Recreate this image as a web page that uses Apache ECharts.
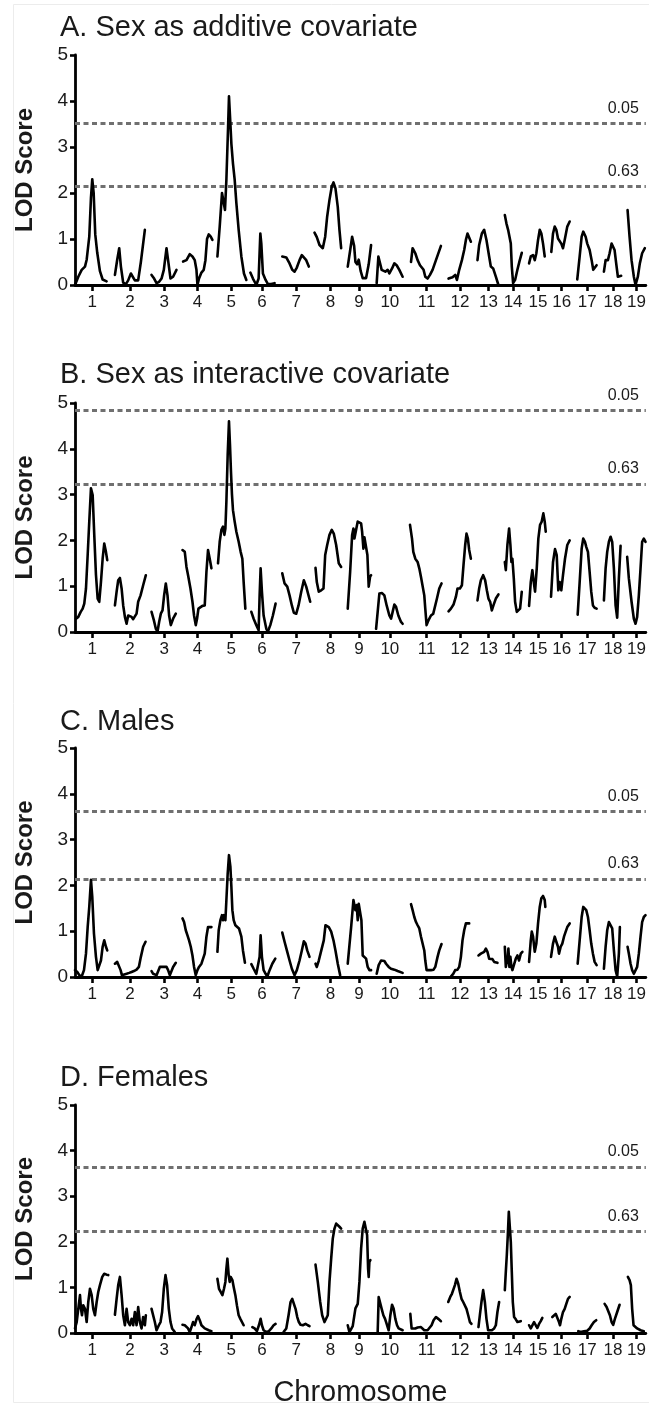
<!DOCTYPE html>
<html><head><meta charset="utf-8">
<script src="https://cdn.jsdelivr.net/npm/echarts@6/dist/echarts.min.js"></script>
<style>html,body{margin:0;padding:0;background:#fff}#c{width:649px;height:1408px}</style>
</head><body><div id="c"></div>
<script>
// ---- data ----
const chrLabels = ['1','2','3','4','5','6','7','8','9','10','11','12','13','14','15','16','17','18','19'];
const chrMid = [17.3,55,89.5,122.8,156.5,187.3,221.7,256,284.5,315.5,352.3,385.7,414.3,439,464,487.7,513.3,539,562.7];
const genomeEnd = 572;
const panelTitles = ['A. Sex as additive covariate','B. Sex as interactive covariate','C. Males','D. Females'];
const thresholdLabels = ['0.05','0.63'];
const thrA = [3.51, 2.15];
const thrB = [4.84, 3.23];
const thrC = [3.61, 2.14];
const thrD = [3.64, 2.23];

const lodA = [
[[0,0],[3.3,0.18],[6.7,0.33],[10,0.4],[11.7,0.55],[14.3,1.05],[16,1.9],[17.3,2.3],[18.7,2.0],[20.3,1.1],[22.3,0.7],[25,0.3],[27.7,0.12],[31.7,0.08]],
[[40,0.22],[42.3,0.55],[44.3,0.8],[46,0.4],[48.3,0.05],[51,0.02],[53.3,0.1],[56,0.25],[58,0.25],[60,0.1],[63.3,0.1],[66,0.5],[70,1.2]],
[[76.7,0.22],[79.3,0.14],[81.7,0.04],[84.3,0.07],[86.7,0.14],[89,0.33],[91.7,0.8],[93.7,0.47],[95.7,0.14],[98.3,0.18],[101.7,0.33]],
[[108.3,0.51],[111.7,0.54],[115,0.67],[117.7,0.62],[120,0.54],[121.7,0.33],[122.7,0],[124.3,0.14],[126.7,0.27],[129,0.33],[130.7,0.54],[132.3,1.0],[134,1.1],[136,1.05],[137.7,0.98]],
[[142.7,0.62],[145,1.27],[147.3,2.0],[149,2.03],[150.3,1.63],[151.7,2.29],[153.3,3.37],[154.3,4.1],[155.7,3.51],[156.7,3.07],[158.3,2.64],[160,2.29],[161.7,1.78],[164,1.2],[166.7,0.62],[169.3,0.25],[171.7,0.11]],
[[175.7,0.27],[178.3,0.14],[181.7,0],[184,0.14],[185.7,1.12],[186.7,0.9],[188.3,0.25],[191,0.11],[193.3,0.02],[196.7,0.02],[200,0.04]],
[[207.7,0.62],[211.7,0.6],[215,0.47],[217.7,0.33],[220,0.29],[222.3,0.38],[225,0.54],[227.3,0.65],[229.3,0.69],[231.7,0.54],[234.3,0.4]],
[[240,1.14],[242.3,1.04],[245,0.87],[248.3,0.8],[250.7,1.05],[252.7,1.49],[255,1.85],[257.3,2.14],[259,2.23],[261,2.1],[263.3,1.7],[265,1.2],[266.7,0.8]],
[[273.3,0.4],[275.7,0.75],[277.7,1.05],[279.7,0.85],[281,0.5],[282.7,0.45],[284.3,0.55],[286.3,0.3],[288.3,0.15],[291.7,0.15],[294.3,0.45],[296.7,0.87]],
[[302.3,0.04],[304,0.62],[305.7,0.47],[307.3,0.33],[309.3,0.36],[311,0.29],[313.3,0.33],[315,0.25],[317.7,0.36],[320,0.47],[322.3,0.43],[325,0.33],[328.3,0.18]],
[[336.7,0.5],[338.3,0.8],[341,0.69],[343.3,0.54],[345.7,0.43],[347.7,0.47],[349.3,0.33],[351,0.18],[353.3,0.14],[355.7,0.22],[358.3,0.33],[361.7,0.54],[366.7,0.85]],
[[374.3,0.14],[378.3,0.17],[381,0.22],[382.7,0.11],[385,0.33],[387.7,0.54],[390,0.76],[391.7,0.98],[393.3,1.12],[395,1.09],[396.7,0.94]],
[[403.3,0.54],[405,0.87],[407.7,1.12],[410,1.2],[412.3,0.98],[415,0.62],[416.7,0.4],[419,0.36],[421.7,0.18],[424.3,0]],
[[430.7,1.52],[432.3,1.34],[434,1.2],[435.7,1.16],[436.7,0.9],[437.7,0.4],[439,0.04],[441,0.11],[443.3,0.33],[445.7,0.54],[447.7,0.7]],
[[455,0.47],[456.7,0.62],[459,0.65],[460.7,0.54],[462.3,0.69],[464,0.98],[465.7,1.2],[467.3,1.12],[469,0.9],[470.7,0.62]],
[[477.3,0.72],[479,1.12],[480.7,1.27],[482.3,1.2],[484,1.01],[485.7,1.05],[487.3,0.9],[489,0.8],[490.7,0.98],[493.3,1.27],[495.7,1.38]],
[[503.3,0.12],[505.7,0.62],[507.7,1.05],[509.3,1.16],[511.7,1.05],[513.3,0.9],[515.7,0.76],[517.7,0.54],[519.3,0.33],[521,0.36],[522.7,0.43]],
[[530,0.29],[531.7,0.54],[534,0.54],[535.7,0.69],[537.7,0.9],[539,0.94],[540.7,0.76],[542.3,0.47],[544,0.18],[545.7,0.18],[547.3,0.2]],
[[553.7,1.63],[555.7,1.05],[557.7,0.54],[560,0.18],[561.7,0],[564,0.18],[566,0.47],[568.3,0.69],[571,0.8]]
];

const lodB = [
[[1,0.29],[3.3,0.33],[5.7,0.44],[7.7,0.51],[9.3,0.62],[11,0.95],[12.7,1.68],[14.3,2.41],[16,3.14],[17.7,2.99],[19.3,2.12],[21,1.25],[22.7,0.73],[24.3,0.66],[26,1.09],[27.7,1.6],[29.3,1.93],[31,1.75],[32.3,1.57]],
[[40,0.58],[41.7,0.88],[43.3,1.13],[45,1.18],[46.7,0.95],[48.3,0.58],[50,0.33],[51.7,0.18],[53.3,0.36],[55,0.36],[56.7,0.33],[58.3,0.28],[60,0.26],[61.7,0.4],[63.3,0.66],[65.7,0.8],[68.3,1.02],[71,1.24]],
[[76.7,0.44],[79,0.26],[81,0.07],[82.7,0.01],[84.3,0.22],[86,0.4],[87.7,0.47],[89.3,0.8],[91,1.06],[92.7,0.8],[94.3,0.36],[96,0.15],[98.3,0.29],[101,0.4]],
[[107.7,1.79],[110,1.75],[111.7,1.42],[113.3,1.24],[115.7,0.95],[117.7,0.66],[119.3,0.36],[121,0.15],[122.3,0.29],[123.7,0.51],[125.7,0.55],[127.7,0.57],[130,0.58],[131.7,1.31],[133.3,1.79],[135,1.6],[136.7,1.39]],
[[143.3,1.5],[145,1.97],[146.7,2.23],[148.3,2.3],[149.7,2.12],[150.7,2.26],[151.7,2.85],[153,3.87],[154.3,4.6],[155.3,4.09],[156.3,3.5],[157.3,3.0],[158.3,2.66],[160,2.41],[161.7,2.19],[164,1.97],[166,1.75],[167.7,1.6],[169,1.09],[170.7,0.51]],
[[176.7,0.44],[179,0.29],[181.7,0.15],[184,0.04],[185,0.8],[186,1.39],[187.3,0.88],[189,0.36],[191.7,0.07],[193.3,0.01],[195.7,0.15],[198.3,0.36],[201,0.62]],
[[207.7,1.28],[210,1.06],[212.7,0.99],[215,0.8],[217.3,0.58],[219.3,0.42],[221.7,0.4],[224,0.58],[226.7,0.88],[229.3,1.13],[231.7,0.99],[234,0.8],[235.7,0.66]],
[[241,1.4],[242.3,1.09],[244.3,0.88],[246.7,0.91],[249,0.95],[250.7,1.68],[252.7,1.9],[255,2.12],[257.3,2.23],[259.3,2.15],[261.7,1.9],[264.3,1.5],[266.7,1.42]],
[[273.3,0.51],[275.7,1.31],[277.7,2.12],[279,2.26],[280,2.04],[281.7,2.23],[283.3,2.41],[285,2.45],[286.7,2.37],[287.7,2.19],[289,1.82],[290,2.07],[291.7,2.04],[293,1.68],[294.3,0.99],[295.7,1.21],[296.7,1.24]],
[[301.7,0.07],[303.3,0.07],[305,0.84],[307.7,0.85],[310,0.8],[312.3,0.58],[315,0.36],[316.7,0.29],[318.3,0.44],[320,0.6],[321.7,0.55],[324,0.36],[326.7,0.22],[328.3,0.18]],
[[335.7,2.34],[337.7,2.04],[339,1.75],[341,1.6],[343.3,1.53],[345,1.39],[346.7,1.2],[348.3,1.17],[350,0.8],[351,0.51],[352.3,0.15],[354.3,0.26],[356.7,0.36],[359,0.4],[361,0.42],[362.7,0.73],[365,0.95],[367.3,1.06]],
[[374.3,0.45],[376.7,0.51],[379.3,0.6],[381.7,0.77],[383.3,0.95],[385.7,0.95],[387.7,1.02],[389.3,1.46],[391,1.9],[392.3,2.15],[393.7,2.04],[395,1.79],[396.7,1.6]],
[[403.3,0.69],[405,0.95],[406.7,1.13],[409,1.24],[411,1.13],[412.7,0.91],[414.3,0.73],[416,0.66],[417.7,0.47],[419.3,0.58],[421.7,0.73],[424.3,0.82]],
[[430.7,1.53],[431.7,1.35],[433.3,1.9],[435,2.26],[436.3,1.9],[437.3,1.53],[438.3,1.6],[439.7,1.17],[441,0.66],[442.7,0.44],[444.3,0.4],[446,0.51],[447.7,0.88]],
[[455,0.57],[456.7,1.09],[458.3,1.35],[459.7,1.09],[461,0.88],[462.7,1.39],[464.3,2.04],[466,2.34],[467.7,2.41],[469.3,2.59],[470.7,2.41],[471.7,2.19]],
[[477,0.77],[479,1.53],[481,1.81],[482.7,1.68],[484.3,0.91],[485.7,1.09],[487.3,0.91],[489,1.24],[491,1.6],[493.3,1.9],[495.7,2.0]],
[[503.7,0.38],[505.7,1.09],[507.7,1.82],[509.3,2.04],[511,1.97],[512.3,1.86],[514,1.75],[515.7,1.31],[517.3,0.88],[519,0.58],[520.7,0.53],[522.7,0.51]],
[[530,0.69],[531.7,1.39],[533.3,1.75],[535,1.97],[536.7,2.08],[538.3,1.97],[540,1.39],[541.7,0.58],[543.3,0.31],[545,1.17],[546.7,1.88]],
[[553.3,1.64],[555,1.17],[557.7,0.66],[560,0.29],[561.7,0.18],[563.3,0.33],[565,0.8],[566.7,1.39],[568.3,1.97],[570,2.04],[571.7,1.97]]
];

const lodC = [
[[0,0.15],[2.3,0.11],[4.3,0.04],[6.7,0.01],[9,0.15],[11,0.51],[12.7,1.09],[14.3,1.53],[16,2.12],[17.3,1.75],[19,0.95],[21,0.44],[22.7,0.15],[24.3,0.11],[26,0.36],[27.7,0.66],[29.3,0.8],[31,0.66],[32.3,0.58]],
[[40,0.29],[42.3,0.33],[44.3,0.36],[45.7,0.15],[47,0.04],[49,0.04],[51.7,0.07],[54.3,0.09],[56.7,0.11],[59,0.13],[61.7,0.16],[64,0.22],[66,0.44],[68.3,0.66],[70.7,0.77]],
[[76.7,0.13],[78.3,0.07],[80,0.04],[81.7,0.04],[83.3,0.07],[85,0.22],[86.7,0.2],[88.3,0.22],[90,0.2],[91.7,0.22],[93.3,0.15],[95,0.04],[96.7,0.07],[98.3,0.22],[101,0.31]],
[[107.7,1.28],[109.3,1.2],[111,1.02],[112.7,0.91],[114.3,0.8],[116,0.66],[117.7,0.47],[119.3,0.22],[121,0.04],[122.7,0.15],[124.3,0.22],[126.7,0.29],[128.3,0.33],[130,0.51],[131.7,0.88],[133.3,1.09],[135,1.13],[136.7,1.09]],
[[142.7,0.55],[144,1.02],[145.7,1.24],[147.3,1.35],[148.3,1.24],[149.3,1.35],[150.7,1.24],[151.7,1.68],[153,2.26],[154.3,2.66],[155.7,2.41],[156.7,1.97],[157.7,1.46],[159,1.24],[160.7,1.13],[162.3,1.09],[164.3,1.06],[166.7,0.88],[168.3,0.58],[170.3,0.31]],
[[176.7,0.28],[179,0.18],[181.7,0.07],[183.7,0.04],[185,0.44],[186,0.91],[187.3,0.44],[189,0.15],[191,0.07],[192.7,0.01],[195,0.15],[197.7,0.29],[200.7,0.4]],
[[207.7,0.97],[210,0.77],[212.3,0.58],[215,0.36],[217.3,0.18],[220,0.04],[222.3,0.15],[225,0.36],[227.3,0.58],[229.3,0.78],[231,0.73],[232.7,0.58],[235,0.44]],
[[241,0.29],[242.3,0.22],[244.3,0.36],[246,0.51],[247.7,0.55],[249.3,0.8],[251,1.13],[252.7,1.17],[254.3,1.09],[256.7,0.99],[259,0.8],[261,0.58],[263.3,0.29],[265.7,0.04]],
[[273.3,0.29],[276.7,1.09],[279,1.68],[281,1.46],[282.3,1.57],[283.3,1.24],[284.3,1.6],[285.7,1.57],[287,1.24],[288.3,0.47],[290,0.44],[291.7,0.4],[293.3,0.22],[295,0.15],[296.7,0.15]],
[[302.3,0.07],[304.3,0.26],[306.7,0.36],[308.3,0.39],[310,0.35],[311.7,0.29],[314.3,0.22],[316.7,0.18],[320,0.16],[323.3,0.13],[328.3,0.09]],
[[336.7,1.59],[338.3,1.46],[340,1.31],[341.7,1.2],[343.3,1.13],[345,1.06],[346.7,0.88],[348.3,0.84],[350,0.58],[351,0.36],[352.3,0.15],[354.3,0.15],[356.7,0.15],[359.3,0.16],[361,0.22],[363.3,0.44],[365,0.58],[367.3,0.72]],
[[376.7,0.01],[379,0.07],[381,0.15],[383.3,0.16],[385,0.22],[386.7,0.44],[388.3,0.8],[390,1.02],[391.7,1.17],[393.3,1.2],[395,1.17]],
[[404.3,0.47],[406.7,0.51],[408.3,0.5],[410,0.55],[411.7,0.62],[413.3,0.55],[415,0.4],[416.7,0.36],[418.3,0.39],[420,0.33],[421.7,0.34],[423.3,0.31]],
[[430.7,0.66],[431.7,0.22],[432.7,0.18],[433.7,0.44],[434.3,0.62],[435.3,0.22],[436.3,0.44],[437.3,0.22],[438.3,0.15],[440,0.18],[441.7,0.4],[443.3,0.47],[445,0.36],[446.7,0.51],[448.3,0.55]],
[[455,0.33],[456.7,0.8],[457.7,0.99],[459,0.88],[460.7,0.55],[462.3,0.73],[464,1.17],[465.7,1.53],[467.3,1.72],[469,1.77],[470.7,1.68],[471.3,1.53]],
[[477,0.44],[479,0.73],[480.7,0.88],[482.3,0.77],[484,0.66],[485,0.51],[486.7,0.66],[488.3,0.73],[490,0.88],[491.7,0.99],[493.3,1.09],[495.7,1.17]],
[[503.7,0.29],[505.7,0.8],[507.7,1.31],[509.3,1.53],[511,1.5],[512.3,1.46],[514,1.31],[515.7,1.02],[517.3,0.73],[519,0.51],[520.7,0.33],[522.7,0.26]],
[[530,0.18],[531.7,0.66],[533.3,1.02],[535,1.2],[536.7,1.24],[538.3,1.06],[540,0.58],[541.7,0.15],[543.3,0.01],[545,0.51],[546,1.09]],
[[553.7,0.66],[555,0.51],[556.7,0.29],[558.3,0.15],[560,0.07],[561.7,0.06],[563.3,0.22],[565,0.51],[566.7,0.88],[568.3,1.2],[570,1.31],[571.7,1.35]]
];

const lodD = [
[[0,0.1],[1.7,0.24],[3.3,0.53],[5,0.83],[6,0.53],[7,0.39],[8.3,0.61],[10,0.53],[11.7,0.24],[13.3,0.68],[15,0.97],[16.7,0.83],[18.3,0.53],[20,0.39],[21.7,0.68],[23.3,0.9],[25,1.05],[27.3,1.23],[29.3,1.3],[31.7,1.28],[33.3,1.27]],
[[40,0.4],[41.7,0.75],[43.3,1.05],[45,1.23],[46.7,0.83],[48.3,0.39],[50,0.17],[51.7,0.53],[53.3,0.24],[55,0.17],[56.7,0.31],[58.3,0.17],[60,0.46],[61.7,0.17],[63.3,0.57],[65,0.24],[66.7,0.1],[68.3,0.35],[70,0.17],[71,0.39]],
[[76.7,0.53],[78.3,0.5],[80,0.24],[81.7,0.06],[84,0.17],[85.7,0.24],[87.3,0.46],[89,0.97],[90.7,1.27],[92.3,1.05],[94,0.53],[95.7,0.24],[97.3,0.1],[100,0.02]],
[[107.7,0.18],[110,0.17],[111.7,0.2],[113.3,0.1],[115,0.02],[116.7,0.13],[118.3,0.24],[120,0.17],[121.7,0.3],[123.3,0.37],[125,0.28],[126.7,0.17],[128.3,0.13],[130,0.1],[131.7,0.08],[134,0.06],[136.7,0.04]],
[[142.7,1.19],[144.3,0.97],[146,0.9],[147.7,0.83],[149.3,0.97],[150.7,1.12],[151.7,1.41],[152.7,1.63],[154,1.27],[155,1.12],[156,1.23],[157.7,1.16],[159,1.01],[160.7,0.83],[162.3,0.6],[164,0.39],[165.7,0.31],[167.3,0.3],[169,0.17]],
[[177.7,0.13],[180,0.1],[182.3,0.04],[184.3,0.17],[186,0.31],[187.3,0.17],[189,0.06],[191.7,0.02],[194.3,0.04],[196.7,0.1],[199,0.17],[201,0.2]],
[[209,0.02],[211.7,0.1],[214,0.39],[216,0.68],[217.7,0.75],[219.3,0.72],[221,0.53],[222.7,0.35],[224.3,0.24],[226,0.18],[228.3,0.17],[231,0.2],[233.3,0.17],[235,0.15]],
[[241,1.5],[243.3,1.12],[245.7,0.68],[247.7,0.39],[250,0.24],[251.7,0.21],[253.3,0.39],[255,1.12],[256.7,1.63],[258.3,2.07],[260,2.29],[261.7,2.4],[263.3,2.4],[265,2.33],[266.7,2.29]],
[[273.3,0.17],[275,0.02],[276.7,0.06],[278.3,0.15],[281,0.54],[283.3,0.64],[285,1.12],[286.7,1.85],[288.3,2.29],[290,2.44],[291.7,2.4],[292.7,2.15],[293.7,1.41],[294.3,1.23],[295,1.56],[296,1.6]],
[[303.3,0.02],[304.3,0.79],[305.7,0.75],[307.3,0.53],[309,0.39],[310.7,0.31],[312.3,0.2],[314.3,0.06],[316,0.39],[317.7,0.62],[319.3,0.53],[321,0.31],[322.7,0.17],[324.3,0.1],[328.3,0.06]],
[[336,0.42],[337.3,0.1],[339,0.06],[341,0.1],[343.3,0.12],[345,0.08],[346.7,0.13],[348.3,0.1],[350,0.06],[351.7,0.04],[353.3,0.06],[355,0.1],[357.3,0.17],[359.3,0.28],[361.7,0.35],[364,0.31],[366.7,0.26]],
[[374,0.68],[376,0.79],[377.7,0.86],[379.3,0.89],[380.7,1.05],[382.3,1.19],[384,1.08],[385.7,0.9],[387.3,0.75],[389,0.68],[390.7,0.64],[392.3,0.53],[394,0.39],[395.7,0.24],[397.3,0.2]],
[[404.3,0.13],[405.7,0.39],[407.3,0.68],[409,0.94],[410.7,0.68],[412.3,0.31],[414,0.06],[415.7,0.02],[417.7,0.06],[420,0.1],[421.7,0.17],[423.3,0.46],[425,0.68]],
[[430.7,0.94],[431.7,1.34],[432.7,1.71],[433.7,2.15],[434.7,2.66],[435.7,2.62],[436.7,2.0],[437.7,1.34],[438.7,0.68],[440,0.35],[441.7,0.3],[443.3,0.24],[445,0.28],[446.7,0.26]],
[[455,0.17],[456.7,0.1],[458.3,0.13],[460,0.24],[461.7,0.17],[463.3,0.11],[465,0.2],[466.7,0.26],[468.3,0.33]],
[[478.3,0.35],[480,0.39],[481.7,0.42],[483.3,0.39],[485,0.24],[486,0.17],[487.3,0.31],[489,0.46],[490.7,0.53],[492.3,0.64],[494,0.75],[495.7,0.79]],
[[504.3,0.04],[506.7,0.02],[510,0.04],[513.3,0.05],[515.7,0.1],[517.7,0.17],[520,0.24],[522.3,0.28]],
[[530.7,0.64],[532.7,0.57],[534.3,0.53],[536,0.39],[537.7,0.24],[539.3,0.18],[541,0.31],[543.3,0.46],[545.7,0.62]],
[[554,1.23],[555.7,1.16],[557,1.05],[558.3,0.53],[559.7,0.17],[561,0.13],[563.3,0.1],[566.7,0.06],[570,0.04]]
];

// ---- layout / style ----
const panels = [
  {lod: lodA, thr: thrA, top: 55,  height: 230, titleTop: 8},
  {lod: lodB, thr: thrB, top: 403, height: 229, titleTop: 355},
  {lod: lodC, thr: thrC, top: 748, height: 229, titleTop: 702},
  {lod: lodD, thr: thrD, top: 1105, height: 228, titleTop: 1058}
];
const FONT = '"Liberation Sans", Arial, Helvetica, sans-serif';
const INK = '#1a1a1a';

const option = {
  animation: false,
  backgroundColor: '#ffffff',
  textStyle: {fontFamily: FONT},
  title: [], grid: [], xAxis: [], yAxis: [], series: [],
  graphic: [{
    type: 'rect', silent: true, z: -1,
    shape: {x: 13.5, y: 4.5, width: 640, height: 1398},
    style: {fill: 'none', stroke: '#ececec', lineWidth: 1}
  }]
};

panels.forEach((p, i) => {
  option.title.push({
    text: panelTitles[i], left: 55, top: p.titleTop,
    textStyle: {fontFamily: FONT, fontSize: 29, fontWeight: 'normal', color: INK}
  });
  option.grid.push({left: 75, right: 2, top: p.top, height: p.height});
  const isLast = i === panels.length - 1;
  option.xAxis.push({
    type: 'value', gridIndex: i, min: 0, max: genomeEnd,
    axisLine: {show: true, onZero: false, lineStyle: {color: '#000', width: 2.8}},
    axisTick: {show: true, customValues: chrMid, length: 6, lineStyle: {color: '#000', width: 2.6}},
    axisLabel: {
      show: true, customValues: chrMid, margin: 9,
      fontFamily: FONT, fontSize: 17, color: INK,
      formatter: v => chrLabels[chrMid.indexOf(v)]
    },
    splitLine: {show: false},
    name: isLast ? 'Chromosome' : '', nameLocation: 'middle', nameGap: 45,
    nameTextStyle: {fontFamily: FONT, fontSize: 29, color: INK}
  });
  option.yAxis.push({
    type: 'value', gridIndex: i, min: 0, max: 5, interval: 1,
    axisLine: {show: true, lineStyle: {color: '#000', width: 2.8}},
    axisTick: {show: true, length: 5, lineStyle: {color: '#000', width: 2.6}},
    axisLabel: {margin: 7, fontFamily: FONT, fontSize: 19, color: INK},
    splitLine: {show: false},
    name: 'LOD Score', nameLocation: 'middle', nameGap: 38,
    nameTextStyle: {fontFamily: FONT, fontSize: 24, fontWeight: 'bold', color: INK}
  });
  p.lod.forEach((seg, k) => {
    const s = {
      type: 'line', xAxisIndex: i, yAxisIndex: i, data: seg,
      symbol: 'none', silent: true, z: 3,
      lineStyle: {color: '#000', width: 2.6, join: 'round', cap: 'round'}
    };
    if (k === 0) {
      s.markLine = {
        symbol: 'none', silent: true, z: 2,
        lineStyle: {type: [5, 3.5], color: '#707070', width: 2.8},
        label: {position: 'insideEndTop', distance: 7, padding: [0, 0, 0, 0],
                fontFamily: FONT, fontSize: 16, color: INK},
        data: p.thr.map((t, j) => ({yAxis: t, label: {formatter: thresholdLabels[j]}}))
      };
    }
    option.series.push(s);
  });
});

const chart = echarts.init(document.getElementById('c'), null, {renderer: 'canvas'});
chart.setOption(option);
</script>
</body></html>
